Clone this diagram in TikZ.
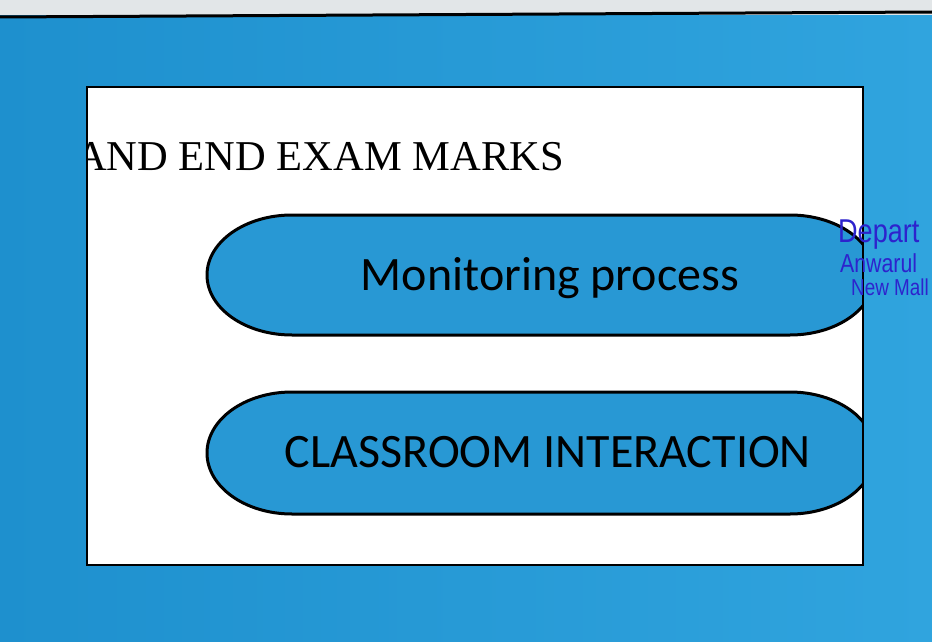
\documentclass[tikz,border=0pt]{standalone}
\usepackage{fontspec}
\setmainfont{Liberation Serif}
\newfontfamily\capsulefont{Carlito}
\newfontfamily\stampfont{Liberation Sans}
\definecolor{slideblue}{RGB}{30,144,206}
\definecolor{slidebluelight}{RGB}{48,164,222}
\definecolor{capsuleblue}{RGB}{40,152,212}
\definecolor{stampink}{RGB}{45,35,205}
\definecolor{photogrey}{RGB}{226,230,232}

\begin{document}
\begin{tikzpicture}[x=1pt,y=-1pt,
    capsule/.style={draw=black,line width=3pt,fill=capsuleblue},
    caption/.style={font=\capsulefont\fontsize{48}{48}\selectfont,text=black,anchor=base},
    stamp/.style={text=stampink,anchor=base west,inner sep=0pt,xscale=0.82}]
  \useasboundingbox (0,0) rectangle (932,642);

  % photo of the slide
  \fill[photogrey] (0,0) rectangle (932,16);
  \shade[left color=slideblue,right color=slidebluelight] (0,16) rectangle (932,642);
  \draw[line width=3pt] (0,17) -- (932,12);

  % white slide area
  \begin{scope}
    \clip (87,87) rectangle (863,565);
    \fill[white] (87,87) rectangle (863,565);
    \node[font=\fontsize{42.5}{42.5}\selectfont,anchor=base west,inner sep=0pt] (title) at (76,170) {AND END EXAM MARKS};
    \draw[capsule] (292,215) -- (790,215)
      arc[start angle=-90,end angle=90,x radius=85,y radius=60] -- (292,335)
      arc[start angle=90,end angle=270,x radius=85,y radius=60] -- cycle;
    \draw[capsule] (292,392) -- (790,392)
      arc[start angle=-90,end angle=90,x radius=85,y radius=61] -- (292,514)
      arc[start angle=90,end angle=270,x radius=85,y radius=61] -- cycle;
  \end{scope}
  \draw[line width=1.5pt] (87,87) rectangle (863,565);

  \node[caption] (monitor) at (550,290) {Monitoring process};
  \node[caption] (classroom) at (548,467) {CLASSROOM INTERACTION};

  % ink stamp
  \node[stamp,font=\stampfont\fontsize{33}{33}\selectfont] (stampa) at (838,242) {Depart};
  \node[stamp,font=\stampfont\fontsize{26}{26}\selectfont] (stampb) at (840,272) {Anwarul};
  \node[stamp,font=\stampfont\fontsize{23}{23}\selectfont] (stampc) at (851,295) {New Mall};
\end{tikzpicture}
\end{document}
